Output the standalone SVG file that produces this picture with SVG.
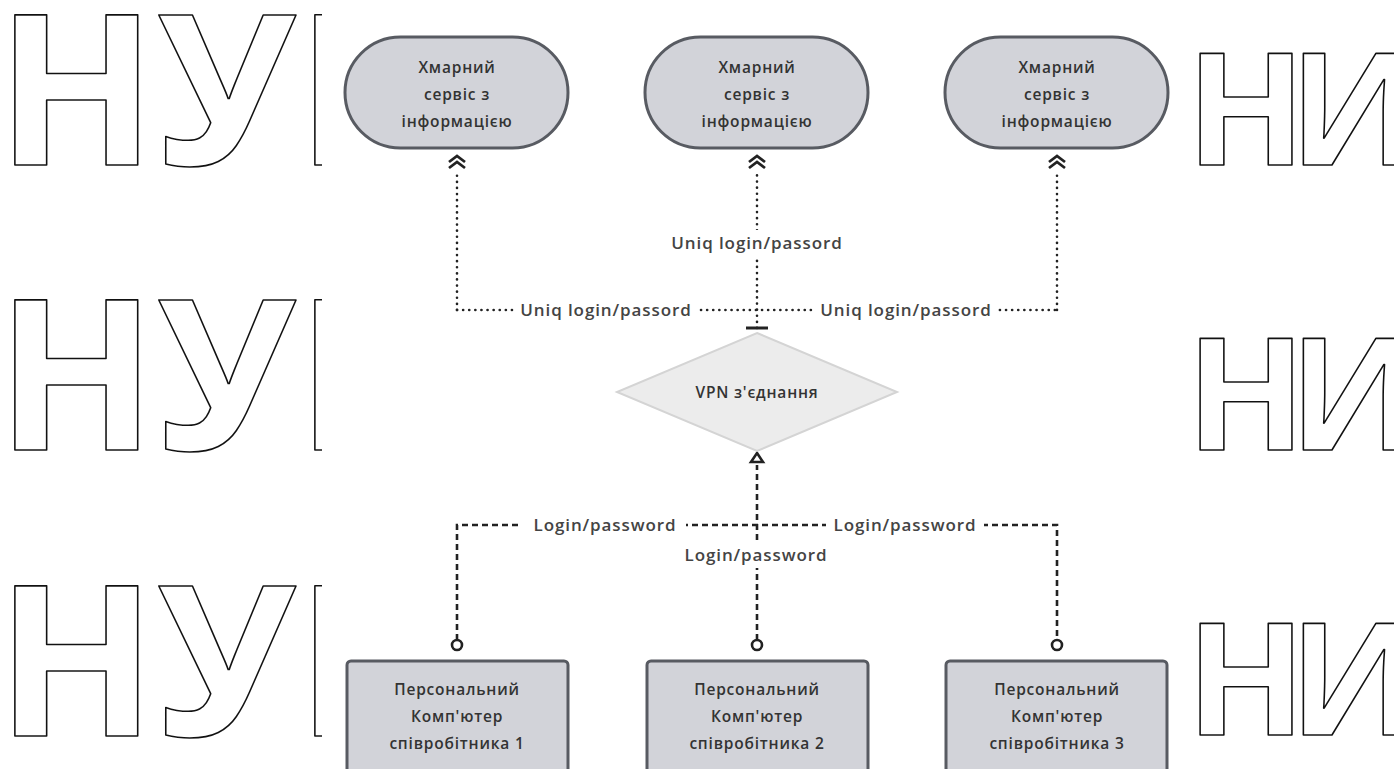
<svg xmlns="http://www.w3.org/2000/svg" width="1394" height="769" viewBox="0 0 1394 769">
<style>
.wm{font-family:"Open Sans","DejaVu Sans",sans-serif;font-weight:700;fill:#fff;stroke:#111;stroke-width:1.6;stroke-linejoin:round}
.node{fill:#d2d3d9;stroke:#585b62;stroke-width:3}
.dia{fill:#ececec;stroke:#d4d4d4;stroke-width:2}
.nt{font-family:"Open Sans","Noto Sans",sans-serif;font-weight:600;font-size:15.5px;letter-spacing:0.8px;fill:#333;text-anchor:middle}
.lbl{font-family:"Open Sans","Noto Sans",sans-serif;font-weight:600;font-size:17px;letter-spacing:0.9px;fill:#444;text-anchor:middle}
.dot{fill:none;stroke:#222;stroke-width:2.6;stroke-dasharray:0.1 6;stroke-linecap:round}
.dash{fill:none;stroke:#222;stroke-width:2.6;stroke-dasharray:6 4}
.end{fill:none;stroke:#222;stroke-width:3}
.endw{fill:#fff;stroke:#222;stroke-width:2.6}
</style>
<defs>
<marker id="dchev" markerUnits="userSpaceOnUse" viewBox="-4 -12 24 24" markerWidth="24" markerHeight="24" refX="0" refY="0" orient="auto">
<path d="M2,-8 L8,0 L2,8 M8,-8 L14,0 L8,8" fill="none" stroke="#222" stroke-width="2.8"/>
</marker>
<clipPath id="clipL"><rect x="0" y="0" width="322" height="769"/></clipPath>
<clipPath id="clipR"><rect x="1191" y="0" width="203" height="769"/></clipPath>
</defs>
<rect width="1394" height="769" fill="#fff"/>
<g id="watermark-left" clip-path="url(#clipL)">
<text class="wm" x="-4" y="165" font-size="210">НУБ</text>
<text class="wm" x="-4" y="450" font-size="210">НУБ</text>
<text class="wm" x="-4" y="736" font-size="210">НУБ</text>
</g>
<g id="watermark-right" clip-path="url(#clipR)">
<text class="wm" x="1186" y="165" font-size="157" letter-spacing="-17">НИ</text>
<text class="wm" x="1186" y="450" font-size="157" letter-spacing="-17">НИ</text>
<text class="wm" x="1186" y="735" font-size="157" letter-spacing="-17">НИ</text>
</g>
<g id="connectors">
<path class="dot" d="M457,310 V170" marker-end="url(#dchev)"/>
<path class="dot" d="M1057,310 V170" marker-end="url(#dchev)"/>
<path class="dot" d="M757,328 V170" marker-end="url(#dchev)"/>
<path class="dot" d="M457,310 H1057"/>
<path class="end" d="M746,328 H768"/>
<path class="dash" d="M757,640 V465"/>
<path class="endw" d="M757,453 L763,462 L751,462 Z"/>
<path class="dash" d="M457,640 V525 H1057 V640"/>
<circle class="endw" cx="457" cy="645" r="5"/>
<circle class="endw" cx="757" cy="645" r="5"/>
<circle class="endw" cx="1057" cy="645" r="5"/>
<rect x="515" y="297" width="182" height="26" fill="#fff"/>
<rect x="815" y="297" width="182" height="26" fill="#fff"/>
<rect x="666" y="230" width="182" height="26" fill="#fff"/>
<text class="lbl" x="606" y="316">Uniq login/passord</text>
<text class="lbl" x="906" y="316">Uniq login/passord</text>
<text class="lbl" x="757" y="249">Uniq login/passord</text>
<rect x="522" y="512" width="164" height="26" fill="#fff"/>
<rect x="826" y="512" width="158" height="26" fill="#fff"/>
<rect x="677" y="542" width="158" height="26" fill="#fff"/>
<text class="lbl" x="605" y="531">Login/password</text>
<text class="lbl" x="905" y="531">Login/password</text>
<text class="lbl" x="756" y="561">Login/password</text>
</g>
<g id="cloud1">
<rect class="node" x="345" y="37" width="223" height="111" rx="55.5"/>
<text class="nt" x="457" y="73">Хмарний</text>
<text class="nt" x="457" y="100">сервіс з</text>
<text class="nt" x="457" y="127">інформацією</text>
</g>
<g id="cloud2">
<rect class="node" x="645" y="37" width="223" height="111" rx="55.5"/>
<text class="nt" x="757" y="73">Хмарний</text>
<text class="nt" x="757" y="100">сервіс з</text>
<text class="nt" x="757" y="127">інформацією</text>
</g>
<g id="cloud3">
<rect class="node" x="945" y="37" width="223" height="111" rx="55.5"/>
<text class="nt" x="1057" y="73">Хмарний</text>
<text class="nt" x="1057" y="100">сервіс з</text>
<text class="nt" x="1057" y="127">інформацією</text>
</g>
<g id="vpn">
<path class="dia" d="M757,333 L897,392 L757,451 L617,392 Z"/>
<text class="nt" x="757" y="398">VPN з'єднання</text>
</g>
<g id="pc1">
<rect class="node" x="347" y="661" width="221" height="115" rx="4"/>
<text class="nt" x="457" y="695">Персональний</text>
<text class="nt" x="457" y="722">Комп'ютер</text>
<text class="nt" x="457" y="749">співробітника 1</text>
</g>
<g id="pc2">
<rect class="node" x="647" y="661" width="221" height="115" rx="4"/>
<text class="nt" x="757" y="695">Персональний</text>
<text class="nt" x="757" y="722">Комп'ютер</text>
<text class="nt" x="757" y="749">співробітника 2</text>
</g>
<g id="pc3">
<rect class="node" x="946" y="661" width="221" height="115" rx="4"/>
<text class="nt" x="1057" y="695">Персональний</text>
<text class="nt" x="1057" y="722">Комп'ютер</text>
<text class="nt" x="1057" y="749">співробітника 3</text>
</g>
</svg>
